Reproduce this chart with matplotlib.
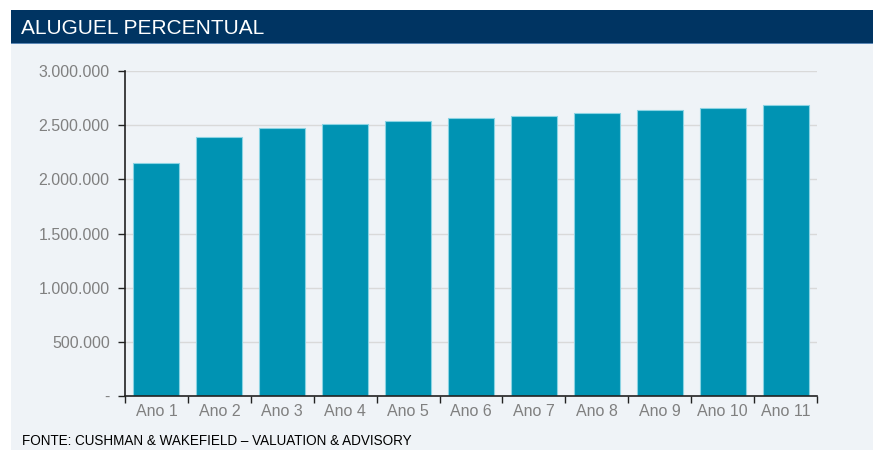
import matplotlib.pyplot as plt
from matplotlib.patches import Rectangle
from matplotlib.ticker import FuncFormatter
import numpy as np

plt.rcParams['font.family'] = ['Liberation Sans', 'DejaVu Sans']

# data
anos = ['Ano 1', 'Ano 2', 'Ano 3', 'Ano 4', 'Ano 5', 'Ano 6',
        'Ano 7', 'Ano 8', 'Ano 9', 'Ano 10', 'Ano 11']
aluguel = [2150000, 2390000, 2472000, 2510000, 2540000, 2565000,
           2587000, 2612000, 2638000, 2660000, 2686000]
y_ticks = [0, 500000, 1000000, 1500000, 2000000, 2500000, 3000000]

W, H = 873, 450
bg = '#EFF3F7'
navy = '#003462'
bar_color = '#0093B3'

fig = plt.figure(figsize=(W / 100, H / 100), dpi=100)
fig.patch.set_facecolor('white')

# light panel and header band
fig.patches.append(Rectangle((11 / W, 0), 1, (H - 10) / H, transform=fig.transFigure,
                             facecolor=bg, edgecolor='none', zorder=-2))
fig.patches.append(Rectangle((11 / W, (H - 43) / H), 1, 33 / H, transform=fig.transFigure,
                             facecolor=navy, edgecolor='none', zorder=-1))
fig.patches.append(Rectangle((11 / W, (H - 44) / H), 1, 1.2 / H, transform=fig.transFigure,
                             facecolor='#5B87B5', edgecolor='none', zorder=-1))
fig.text(21 / W, (H - 28) / H, 'ALUGUEL PERCENTUAL', color='white',
         fontsize=15, va='center', ha='left')
fig.text(22 / W, (H - 441) / H, 'FONTE: CUSHMAN & WAKEFIELD \u2013 VALUATION & ADVISORY',
         color='black', fontsize=9.75, va='center', ha='left')

ax = fig.add_axes([125 / W, (H - 396) / H, (817 - 125) / W, (396 - 71) / H])
ax.set_facecolor('none')
ax.set_zorder(2)

x = np.arange(len(anos))
ax.bar(x, aluguel, width=0.73, color=bar_color, edgecolor='#8AD3E3',
       linewidth=0.8, zorder=3)

ax.set_xlim(-0.5, len(anos) - 0.5)
ax.set_ylim(0, 3000000)
ax.set_yticks(y_ticks)
ax.yaxis.set_major_formatter(FuncFormatter(
    lambda v, p: '-' if v == 0 else f'{int(v):,}'.replace(',', '.')))
ax.grid(True, axis='y', color='#D9D9D9', linewidth=1, zorder=0)

# ticks at category boundaries, labels at centres
ax.set_xticks(np.arange(-0.5, len(anos)), labels=[''] * (len(anos) + 1))
ax.set_xticks(x, labels=anos, minor=True)
ax.tick_params(axis='x', which='major', length=5, width=1, color='#222222', direction='out')
ax.tick_params(axis='x', which='minor', length=0, pad=6)
ax.tick_params(axis='y', length=5, width=1, color='#222222', pad=6)
ax.tick_params(axis='both', which='both', labelcolor='#808080', labelsize=11.5)

for s in ['top', 'right']:
    ax.spines[s].set_visible(False)
for s in ['left', 'bottom']:
    ax.spines[s].set_color('#222222')
    ax.spines[s].set_linewidth(1.2)
    ax.spines[s].set_zorder(4)

plt.savefig('out.png', dpi=100, facecolor=fig.get_facecolor())
